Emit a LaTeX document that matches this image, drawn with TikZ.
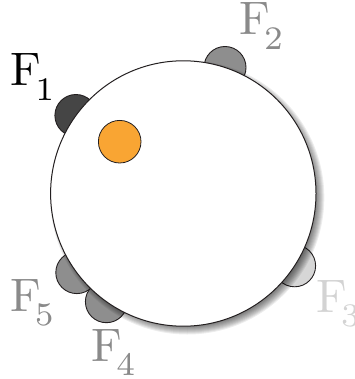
\documentclass[tikz,border=0pt]{standalone}
\usetikzlibrary{calc}
\usepackage{graphicx}
\definecolor{edge}{HTML}{231F20}
\definecolor{orangefill}{HTML}{F9A533}
\definecolor{gA}{HTML}{454545}
\definecolor{gB}{HTML}{8E8E8E}
\definecolor{gC}{HTML}{D6D6D6}
\definecolor{tB}{HTML}{8A8A8A}
\definecolor{tC}{HTML}{D3D3D3}
\newcommand{\flab}[1]{\scalebox{4.7}{\fontsize{10}{12}\selectfont F\kern-1.28pt\raisebox{-2.98pt}{\fontsize{7}{7}\selectfont #1}}}
\tikzset{
  bump/.style={circle, draw=edge, line width=0.9pt, minimum size=42pt, inner sep=0pt, outer sep=0pt},
  flabel/.style={anchor=base west, inner sep=0pt, outer sep=0pt},
}
\begin{document}
\begin{tikzpicture}[x=1pt,y=-1pt]
\useasboundingbox (0,0) rectangle (354,379);
\coordinate (c) at (183.3,193.5);
% bumps
\node[bump, fill=gA] (b1) at (75.9,115.5) {};
\node[bump, fill=gB] (b2) at (225.0,67.5) {};
\node[bump, fill=gC] (b3) at (294.6,265.8) {};
\node[bump, fill=gB] (b4) at (106.4,301.7) {};
\node[bump, fill=gB] (b5) at (76.8,272.6) {};
% shadow
\foreach \i in {0,...,8}{
  \fill[black, opacity=0.07] ($(c)+(4,4)$) circle[radius={(137-\i)*1pt}];
}
% main circle
\node[circle, draw=edge, fill=white, line width=1pt, minimum size=265.4pt, inner sep=0pt] (main) at (c) {};
% orange dot
\node[circle, draw=edge, fill=orangefill, line width=0.8pt, minimum size=42.6pt, inner sep=0pt] (dot) at (119.7,141.7) {};
% labels
\node[flabel, text=black] (l1) at (10.7,86) {\flab{1}};
\node[flabel, text=tB] (l2) at (239.4,35) {\flab{2}};
\node[flabel, text=tC] (l3) at (316.4,312.3) {\flab{3}};
\node[flabel, text=tB] (l4) at (91.7,361.7) {\flab{4}};
\node[flabel, text=tB] (l5) at (10.1,311.3) {\flab{5}};
\end{tikzpicture}
\end{document}
